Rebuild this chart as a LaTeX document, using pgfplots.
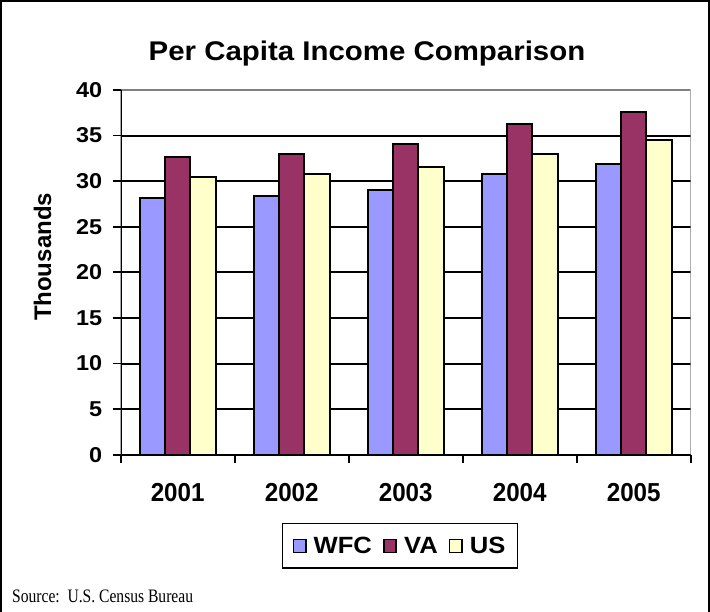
\documentclass[border=0pt]{standalone}
\usepackage{fontspec}
\setmainfont{Liberation Sans}
\newfontfamily\wfont{Liberation Sans}[FakeStretch=1.09]
\newfontfamily\xfont{Liberation Sans}[FakeStretch=0.93]
\newfontfamily\srcfont{Liberation Serif}[FakeStretch=0.82]
\usepackage{pgfplots}
\usepackage{pgfplotstable}
\pgfplotsset{compat=1.18}
\definecolor{wfc}{HTML}{9999FF}
\definecolor{va}{HTML}{993366}
\definecolor{us}{HTML}{FFFFCC}
\definecolor{framegray}{HTML}{808080}
\pgfplotstableread{
x wfc va us
0 28.2 32.6 30.5
1 28.4 33.0 30.8
2 29.0 34.1 31.5
3 30.8 36.3 33.0
4 31.9 37.6 34.5
}\datatable
\begin{document}
\begin{tikzpicture}[x=1pt,y=1pt]
\useasboundingbox (0,0) rectangle (710,612);
\begin{axis}[
  at={(120.7pt,157.3pt)}, anchor=south west,
  scale only axis, width=570pt, height=364.7pt,
  xmin=-0.5, xmax=4.5, ymin=0, ymax=40,
  ybar=0pt, bar width=25.3pt,
  axis line style={draw=none},
  xtick={-0.5,0.5,1.5,2.5,3.5,4.5}, xticklabels={},
  extra x ticks={0,1,2,3,4},
  extra x tick labels={2001,2002,2003,2004,2005},
  extra x tick style={tick style={draw=none}},
  ytick={0,5,...,35}, extra y ticks={40}, extra y tick style={grid=none},
  ymajorgrids, grid style={black, line width=2pt},
  tick align=outside, xtick pos=bottom, ytick pos=left,
  major tick length=8pt,
  tick style={black, line width=1.8pt},
  /pgf/number format/assume math mode=true,
  yticklabel style={font=\wfont\bfseries\fontsize{21.5}{24}\selectfont, xshift=-7pt},
  xticklabel style={font=\xfont\bfseries\fontsize{26}{28}\selectfont, yshift=-17pt},
  legend style={at={(axis description cs:0.49,-0.25)}, anchor=center,
    draw=black, line width=1.8pt, legend columns=3,
    font=\wfont\bfseries\fontsize{23.5}{26}\selectfont,
    inner xsep=10pt, inner ysep=11.5pt,
    /tikz/every odd column/.append style={column sep=5pt},
    /tikz/every even column/.append style={column sep=9pt}},
  legend image code/.code={\draw[#1, line width=1.6pt] (0pt,-6.5pt) rectangle (12.5pt,6.5pt);},
]
\addplot[fill=wfc, draw=black, line width=2pt] table[x=x, y=wfc] {\datatable};
\addplot[fill=va, draw=black, line width=2pt] table[x=x, y=va] {\datatable};
\addplot[fill=us, draw=black, line width=2pt] table[x=x, y=us] {\datatable};
\legend{WFC, VA, US}
\draw[framegray, line width=1.8pt] (rel axis cs:0,1) -- (rel axis cs:1,1) -- (rel axis cs:1,0);
\draw[black, line width=2pt] (rel axis cs:0,1) -- (rel axis cs:0,0) -- (rel axis cs:1,0);
\end{axis}
\node[font=\wfont\bfseries\fontsize{27}{30}\selectfont] at (367,558) {Per Capita Income Comparison};
\node[font=\bfseries\fontsize{24}{26}\selectfont, rotate=90] at (42.5,355) {Thousands};
\node[font=\srcfont\fontsize{19}{21}\selectfont, anchor=base west, inner sep=0pt] at (12,9) {Source:\ \ U.S. Census Bureau};
\draw[black, line width=1.6pt] (0.8,0) -- (0.8,611.2) -- (709.2,611.2) -- (709.2,0);
\end{tikzpicture}
\end{document}
